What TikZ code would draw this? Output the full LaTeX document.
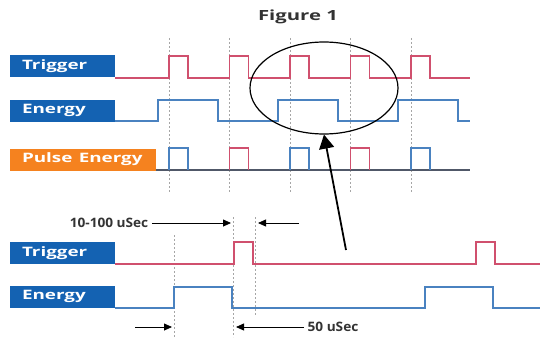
\documentclass[tikz,border=0pt]{standalone}
\usepackage{fontspec}
\setmainfont{Open Sans}
\usepackage{tikz}
\usetikzlibrary{arrows.meta, shapes.geometric, positioning}
\definecolor{labblue}{RGB}{20,98,178}
\definecolor{laborange}{RGB}{245,130,31}
\definecolor{trigred}{RGB}{208,80,110}
\definecolor{energyblue}{RGB}{74,130,192}
\definecolor{baseline}{RGB}{80,88,104}
\newcommand{\wide}[2][1.45]{\scalebox{#1}[1]{#2}}

\begin{document}
\begin{tikzpicture}[
    x=1pt, y=-1pt,
    label/.style={rectangle, fill=labblue, text=white, font=\bfseries\fontsize{13}{13}\selectfont,
        minimum height=22pt, inner xsep=12pt, inner ysep=0pt, align=left, text width=81pt},
    trig/.style={draw=trigred, line width=1.1pt},
    nrg/.style={draw=energyblue, line width=1.1pt},
    guide/.style={draw=gray!70, line width=0.9pt, dash pattern=on 2pt off 2pt},
    dim/.style={-{Triangle[length=8pt,width=7pt]}, line width=0.8pt},
    note/.style={font=\bfseries\fontsize{13}{13}\selectfont, text=black!80}
]
\useasboundingbox (0,0) rectangle (545,337);

% title
\node[font=\bfseries\fontsize{14}{14}\selectfont, text=black!80] (title) at (298,17) {\wide[1.45]{Figure 1}};

% guide lines, upper part
\foreach \g in {169,229.5,290,350.5,411}
    \draw[guide] (\g,38) -- (\g,193);

% labels, upper part
\node[label] (trigA) at (62.5,66) {\wide{Trigger}};
\node[label] (nrgA) at (62.5,110.5) {\wide{Energy}};
\node[label, fill=laborange, text width=122pt] (pulse) at (83,159.5) {\wide{Pulse Energy}};

% trigger train
\draw[trig] (trigA.east |- 0,78) \foreach \r in {169,229.5,290,350.5,411} {
    -- (\r,78) |- (\r+19,56) -- (\r+19,78)} -- (470,78);

% energy train
\draw[nrg] (nrgA.east |- 0,121) \foreach \r in {158,278,398} {
    -- (\r,121) |- (\r+60,100) -- (\r+60,121)} -- (470,121);

% pulse energy
\draw[draw=baseline, line width=1.1pt] (pulse.east |- 0,170) -- (470,170);
\foreach \r in {169,290,411}
    \draw[nrg] (\r,170) |- (\r+19,148) -- (\r+19,170);
\foreach \r in {229.5,350.5}
    \draw[trig] (\r,170) |- (\r+19,148) -- (\r+19,170);

% zoom circle and pointer
\node[ellipse, draw, line width=1.2pt, minimum width=148pt, minimum height=92pt, inner sep=0pt] (circ) at (324,88) {};
\coordinate (tail) at (346,250);
\draw[line width=1.8pt, -{Triangle[length=14pt,width=15pt]}] (tail) -- (circ.south);

% guide lines, lower part
\draw[guide] (174,235) -- (174,337);
\draw[guide] (233,217) -- (233,337);
\draw[guide] (255,217) -- (255,315);

% labels, lower part
\node[label] (trigB) at (62.5,253) {\wide{Trigger}};
\node[label] (nrgB) at (62.5,296.5) {\wide{Energy}};

\draw[trig] (trigB.east |- 0,264) \foreach \r in {234,476} {
    -- (\r,264) |- (\r+19,242) -- (\r+19,264)} -- (540,264);
\draw[nrg] (nrgB.east |- 0,308) -- (174,308) |- (232,287) -- (232,308)
    -- (425,308) |- (493,287) -- (493,308) -- (540,308);

% timing notes
\node[note] (wide1) at (109,223) {\wide[1.05]{10-100 uSec}};
\coordinate (w1end) at (231,223);
\coordinate (w2start) at (299,223);
\coordinate (w2end) at (258,223);
\draw[dim] (wide1.east) -- (w1end);
\draw[dim] (w2start) -- (w2end);

\node[note] (fifty) at (333,327) {\wide[1.05]{50 uSec}};
\coordinate (f1start) at (135,327);
\coordinate (f1end) at (172,327);
\coordinate (f2end) at (236,327);
\draw[dim] (f1start) -- (f1end);
\draw[dim] (fifty.west) -- (f2end);
\end{tikzpicture}
\end{document}
